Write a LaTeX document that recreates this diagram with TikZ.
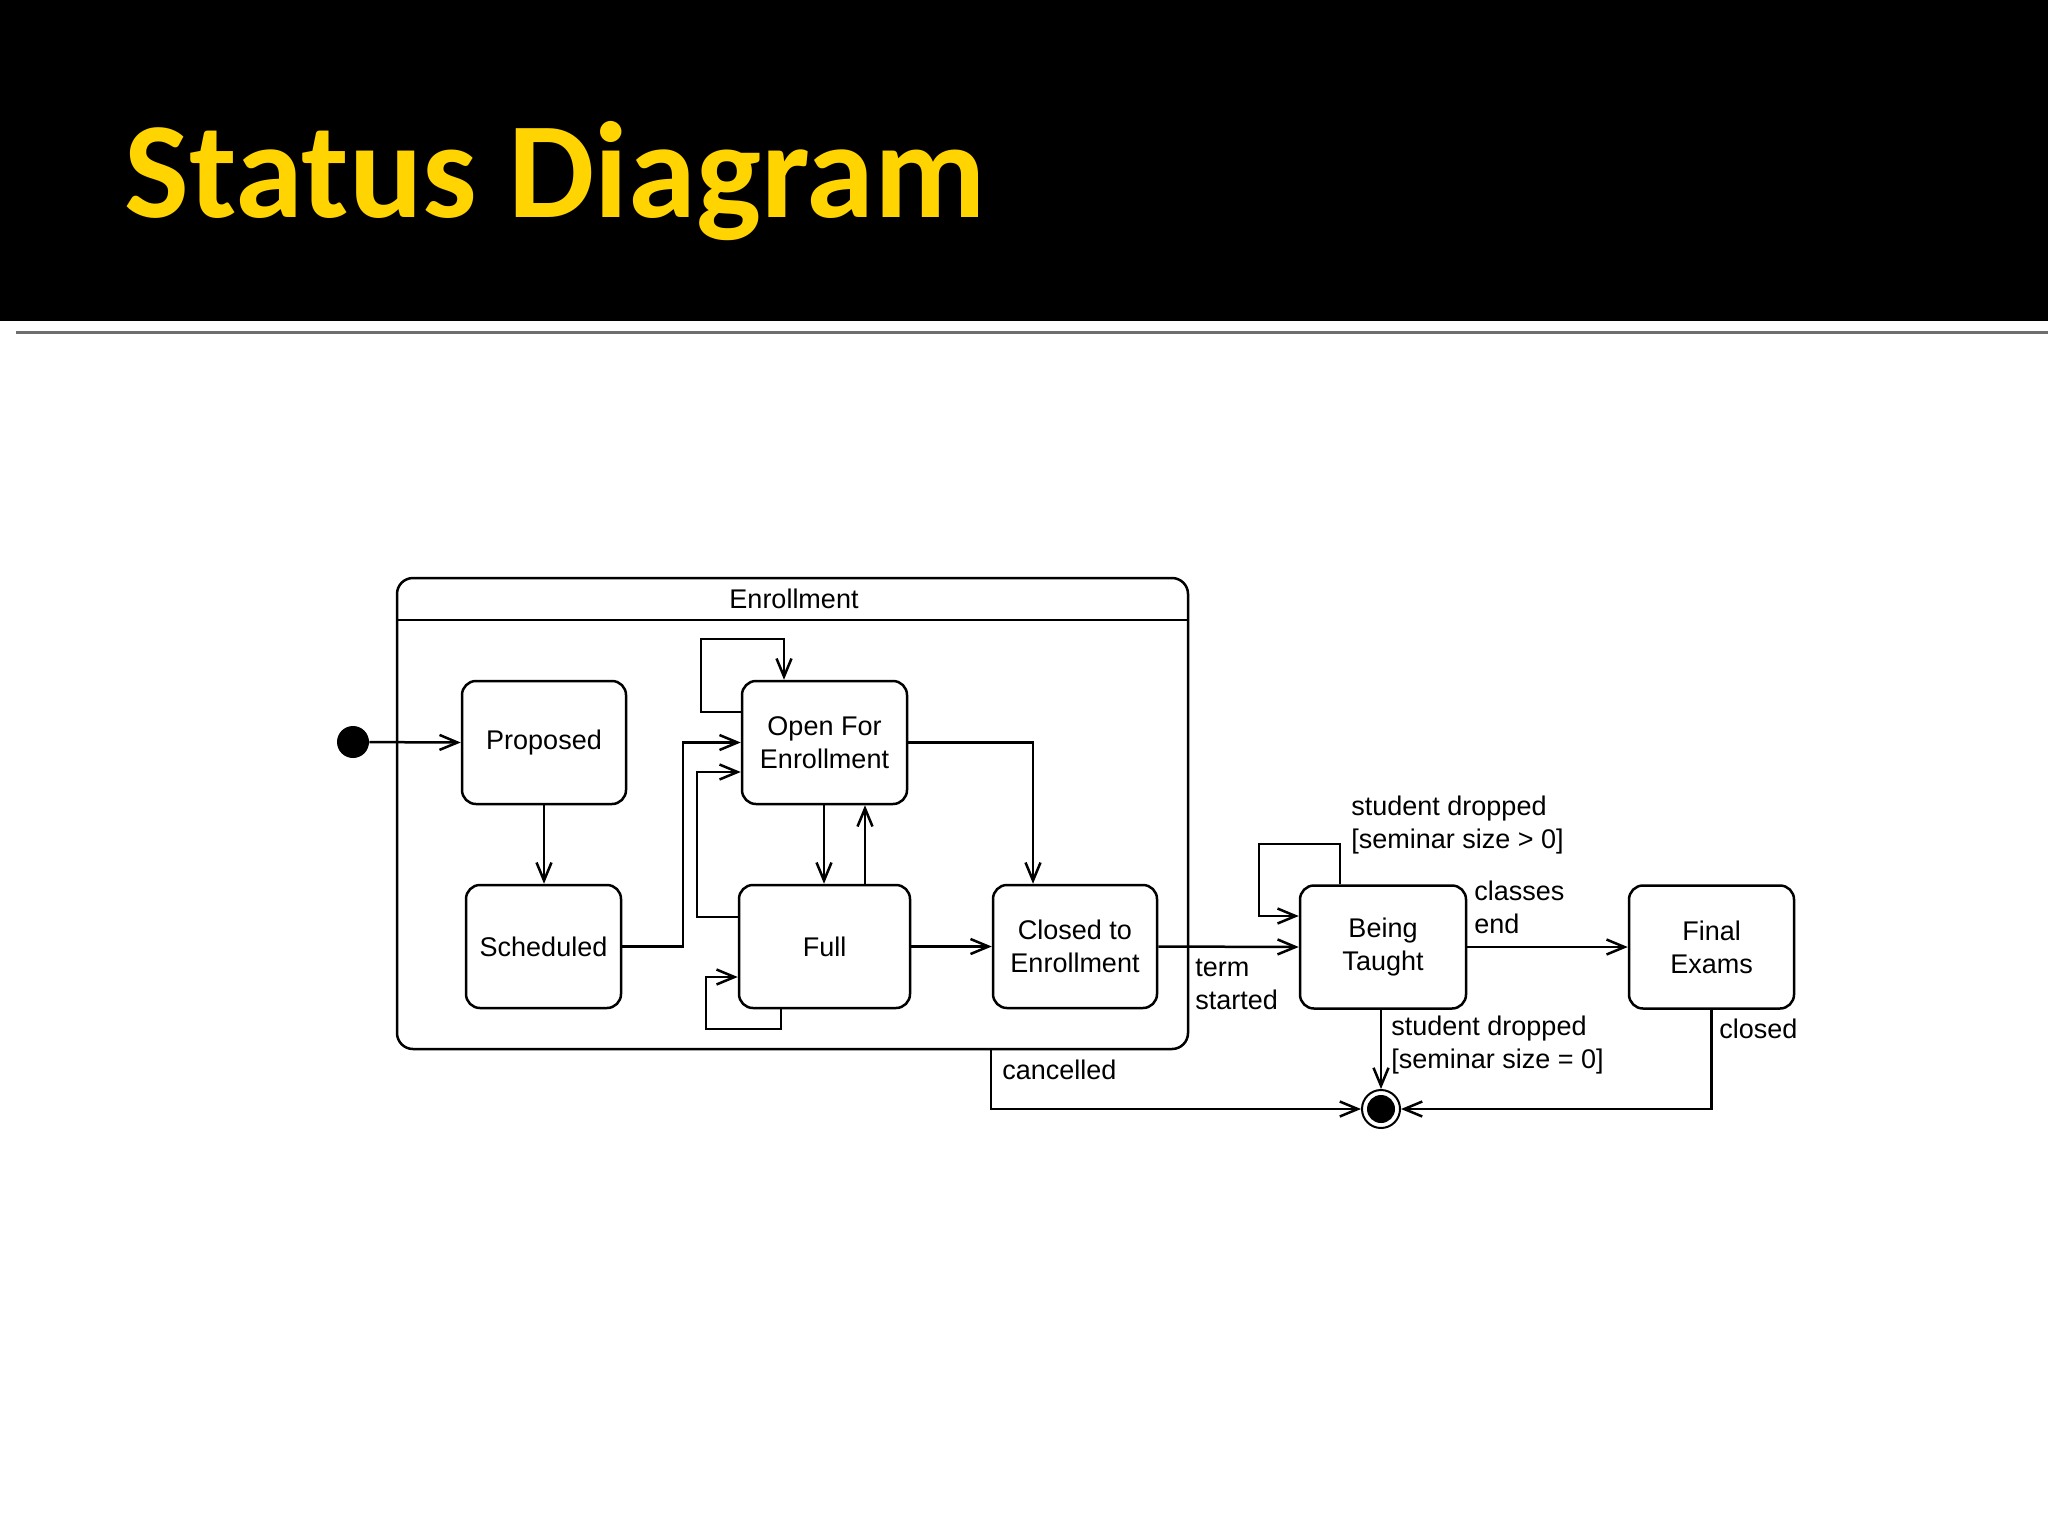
\documentclass[tikz,border=0pt]{standalone}
\usepackage{fontspec}
\setmainfont{Liberation Sans}
\newfontfamily\titlefont{Carlito}
\usetikzlibrary{arrows.meta}
\definecolor{titleyellow}{RGB}{255,212,0}
\definecolor{rulegray}{RGB}{110,110,110}
\begin{document}
\begin{tikzpicture}[x=0.5pt,y=-0.5pt,
  state/.style={draw, rounded corners=7pt, line width=1.25pt, minimum height=61.5pt,
    align=center, inner sep=0pt, font=\fontsize{13.5}{16.5}\selectfont},
  tr/.style={line width=1.25pt, -{Straight Barb[length=9pt,width=7.5pt]}},
  lbl/.style={align=left, inner sep=0pt, anchor=west, font=\fontsize{13.5}{16.5}\selectfont}]
\useasboundingbox (0,0) rectangle (2048,1536);
\fill[white] (0,0) rectangle (2048,1536);
% header
\fill[black] (0,0) rectangle (2048,321);
\draw[rulegray, line width=1.5pt] (16,332) -- (2048,332);
\node[anchor=base west, inner sep=0pt, text=titleyellow, font=\titlefont\bfseries\fontsize{68.5}{80}\selectfont] (title) at (124,217) {Status Diagram};

% composite state
\node[draw, rounded corners=8pt, line width=1.25pt, minimum width=395.5pt, minimum height=235.5pt, inner sep=0pt] (enroll) at (792.5,813.5) {};
\draw[line width=1.25pt] (enroll.west |- 0,620) -- (enroll.east |- 0,620);
\node[inner sep=0pt, font=\fontsize{13.5}{16.5}\selectfont] (enrolltitle) at (794,599) {Enrollment};

% states
\node[circle, fill, minimum size=16pt, inner sep=0pt] (init) at (353,742) {};
\node[state, minimum width=82pt] (prop) at (544,742.5) {Proposed};
\node[state, minimum width=77.5pt] (sched) at (543.5,946.5) {Scheduled};
\node[state, minimum width=82.5pt] (open) at (824.5,742.5) {Open For\\Enrollment};
\node[state, minimum width=85.5pt] (full) at (824.5,946.5) {Full};
\node[state, minimum width=82pt] (closed) at (1075,946.5) {Closed to\\Enrollment};
\node[state, minimum width=83pt] (taught) at (1383,947) {Being\\Taught};
\node[state, minimum width=82.5pt] (exams) at (1711.5,947) {Final\\Exams};
\node[circle, draw, line width=1pt, fill=white, minimum size=19pt, inner sep=0pt] (end) at (1381,1109) {};
\fill (end) circle (7pt);

% transitions
\draw[tr] (init) -- (prop.west);
\draw[tr] (prop.south) -- (prop.south |- sched.north);
\draw[tr] (sched.east) -- ++(60.5,0) |- (open.west);
\draw[tr] (open.west |- 0,712) -| (701,639) -| (784,0 |- open.north);
\draw[tr] (full.west |- 0,917) -| (697,772) -- (open.west |- 0,772);
\draw[tr] (824,0 |- open.south) -- (824,0 |- full.north);
\draw[tr] (865,0 |- full.north) -- (865,0 |- open.south);
\draw[tr] (781,0 |- full.south) |- (706,1029) |- (full.west |- 0,977);
\draw[tr] (full.east) -- (closed.west);
\draw[tr] (open.east) -| (1033,0 |- closed.north);
\draw[tr] (closed.east) -- (taught.west);
\draw[tr] (1340,0 |- taught.north) |- (1259,844) |- (taught.west |- 0,916);
\draw[tr] (taught.east) -- (exams.west);
\draw[tr] (end |- taught.south) -- (end);
\draw[tr] (exams.south) |- (end);
\draw[tr] (991,0 |- enroll.south) |- (end);

% labels
\node[lbl] (lterm) at (1195,984) {term\\started};
\node[lbl] (lclasses) at (1474,907) {classes\\end};
\node[lbl] (ldrop1) at (1351,825.5) {student dropped\\{[seminar size > 0]}};
\node[lbl] (ldrop2) at (1391,1045) {student dropped\\{[seminar size = 0]}};
\node[lbl] (lclosed) at (1719,1029) {closed};
\node[lbl] (lcancel) at (1002,1070) {cancelled};
\end{tikzpicture}
\end{document}
